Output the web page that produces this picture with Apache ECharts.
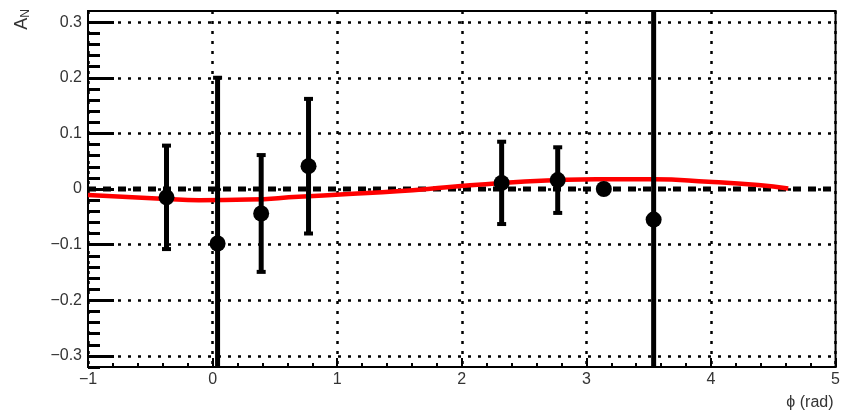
<!DOCTYPE html>
<html>
<head>
<meta charset="utf-8">
<script src="https://cdn.jsdelivr.net/npm/echarts@6/dist/echarts.min.js"></script>
<style>html,body{margin:0;padding:0;background:#fff}#c{width:843px;height:416px}</style>
</head>
<body>
<div id="c"></div>
<script>
// Data points: phi (rad), A_N, error
const phi  = [-0.37, 0.04, 0.39, 0.77, 2.32, 2.77, 3.14, 3.54];
const asym = [-0.015, -0.098, -0.044, 0.041, 0.011, 0.016, 0.000, -0.055];
const errs = [0.093, 0.298, 0.105, 0.121, 0.074, 0.059, 0.005, 0.50];

// Fit curve
const fitPhi = [-1.0, -0.37, -0.11, 0.29, 0.69, 1.09, 1.48, 1.88, 2.32, 2.78, 3.08, 3.54, 3.98, 4.38, 4.62];
const fitA   = [-0.011, -0.018, -0.020, -0.019, -0.014, -0.009, -0.004, 0.003, 0.011, 0.016, 0.0175, 0.0175, 0.013, 0.007, 0.001];

// Reference line at zero
const zeroX = [-1, 5];
const zeroY = [0, 0];

// Axis ticks
const yMajor = [-0.3, -0.2, -0.1, 0, 0.1, 0.2, 0.3];
const yMinor = [-0.32, -0.28, -0.26, -0.24, -0.22, -0.18, -0.16, -0.14, -0.12, -0.08, -0.06, -0.04, -0.02,
                0.02, 0.04, 0.06, 0.08, 0.12, 0.14, 0.16, 0.18, 0.22, 0.24, 0.26, 0.28];

const chart = echarts.init(document.getElementById('c'));
const fmt = v => String(Math.round(v * 10) / 10).replace('-', '\u2212');
const dotted = { color: '#000', width: 2.5, type: [3, 7] };

chart.setOption({
  animation: false,
  backgroundColor: '#fff',
  textStyle: { fontFamily: 'Liberation Sans, Arial, sans-serif' },
  grid: { left: 88, right: 3, top: 11, bottom: 49, show: true, borderColor: '#000', borderWidth: 2 },
  xAxis: {
    type: 'value', min: -1, max: 5, interval: 1,
    name: '\u03d5 (rad)', nameLocation: 'end', nameGap: 0,
    nameTextStyle: { fontSize: 16, color: '#333', align: 'right', verticalAlign: 'top', padding: [28, 2, 0, 0] },
    axisLine: { show: true, onZero: false, lineStyle: { color: '#000', width: 2 } },
    axisTick: { show: true, inside: true, length: 9, lineStyle: { color: '#000', width: 2 } },
    minorTick: { show: true, splitNumber: 5, length: 4, lineStyle: { color: '#000', width: 2 } },
    axisLabel: { fontSize: 16, color: '#333', margin: 5, formatter: v => String(v).replace('-', '\u2212') },
    splitLine: { show: true, lineStyle: dotted }
  },
  yAxis: [{
    type: 'value', min: -0.32, max: 0.32,
    name: '{a|A}{n|N}', nameLocation: 'end', nameGap: 2, nameRotate: 90,
    nameTextStyle: { align: 'right', verticalAlign: 'bottom', padding: [0, 0, 56, 0],
      rich: { a: { fontSize: 18, color: '#333' }, n: { fontSize: 12, color: '#333', padding: [8, 0, 0, 0] } } },
    axisLine: { show: true, onZero: false, lineStyle: { color: '#000', width: 2 } },
    axisTick: { show: true, inside: true, length: 26, customValues: yMajor, lineStyle: { color: '#000', width: 3 } },
    axisLabel: { fontSize: 16, color: '#333', margin: 6, customValues: yMajor, formatter: fmt },
    splitLine: { show: true, lineStyle: dotted }
  }, {
    type: 'value', min: -0.32, max: 0.32, position: 'left',
    axisLine: { show: false, onZero: false },
    axisTick: { show: true, inside: true, length: 12, customValues: yMinor, lineStyle: { color: '#000', width: 3 } },
    axisLabel: { show: false },
    splitLine: { show: false }
  }],
  series: [
    {
      type: 'line', name: 'zero', data: zeroX.map((x, i) => [x, zeroY[i]]),
      showSymbol: false, symbol: 'none', z: 3,
      lineStyle: { color: '#000', width: 5, type: [8, 7] }
    },
    {
      type: 'line', name: 'fit', data: fitPhi.map((x, i) => [x, fitA[i]]),
      smooth: true, showSymbol: false, symbol: 'none', z: 4,
      lineStyle: { color: '#ff0000', width: 4.5 }, itemStyle: { color: '#ff0000' }
    },
    {
      type: 'custom', name: 'errors', clip: true, z: 5,
      data: phi.map((x, i) => [x, asym[i], errs[i]]),
      encode: { x: 0, y: 1 },
      renderItem: function (params, api) {
        const x = api.value(0), y = api.value(1), e = api.value(2);
        const hi = api.coord([x, y + e]);
        const lo = api.coord([x, y - e]);
        return {
          type: 'group',
          children: [
            { type: 'line', shape: { x1: hi[0], y1: hi[1], x2: lo[0], y2: lo[1] }, style: { stroke: '#000', lineWidth: 5 } },
            { type: 'rect', shape: { x: hi[0] - 4.5, y: hi[1] - 2, width: 9, height: 4 }, style: { fill: '#000' } },
            { type: 'rect', shape: { x: lo[0] - 4.5, y: lo[1] - 2, width: 9, height: 4 }, style: { fill: '#000' } }
          ]
        };
      }
    },
    {
      type: 'scatter', name: 'data', data: phi.map((x, i) => [x, asym[i]]),
      symbol: 'circle', symbolSize: 16, z: 6,
      itemStyle: { color: '#000', opacity: 1 }
    }
  ]
});
</script>
</body>
</html>
